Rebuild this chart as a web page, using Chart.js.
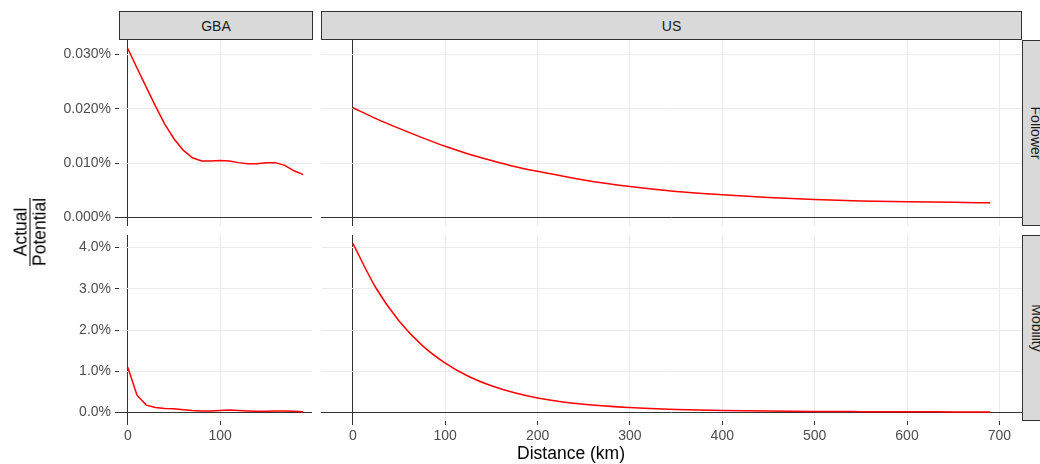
<!DOCTYPE html>
<html>
<head>
<meta charset="utf-8">
<script src="https://cdn.jsdelivr.net/npm/chart.js@4/dist/chart.umd.min.js"></script>
<style>
body { margin: 0; width: 1040px; height: 464px; overflow: hidden; background: #fff; position: relative; font-family: "Liberation Sans", Arial, sans-serif; }
canvas { position: absolute; }
.strip { position: absolute; box-sizing: border-box; background: #d9d9d9; border: 1px solid #333; color: #1a1a1a; font-size: 14px; display: flex; align-items: center; justify-content: center; }
.strip.r span { transform: rotate(90deg); white-space: nowrap; }
.lbl { position: absolute; transform: translate(-50%, -50%); white-space: nowrap; color: #000; }
</style>
</head>
<body>
<div class="strip" style="left:119px;top:11px;width:194px;height:29px">GBA</div>
<div class="strip" style="left:321px;top:11px;width:701px;height:29px">US</div>
<div class="strip r" style="left:1022px;top:40px;width:29px;height:186px"><span>Follower</span></div>
<div class="strip r" style="left:1022px;top:235px;width:29px;height:186px"><span>Mobility</span></div>

<canvas id="gba_follower" width="312" height="186" style="left:0;top:40px"></canvas>
<canvas id="us_follower" width="701" height="186" style="left:321px;top:40px"></canvas>
<canvas id="gba_mobility" width="312" height="216" style="left:0;top:235px"></canvas>
<canvas id="us_mobility" width="701" height="216" style="left:321px;top:235px"></canvas>

<div class="lbl" style="left:30px;top:232px;transform:translate(-50%,-50%) rotate(-90deg);text-align:center;font-size:17.5px;line-height:18px">
  <div>Actual</div>
  <div style="border-top:1px solid #000">Potential</div>
</div>
<div class="lbl" style="left:571px;top:453px;font-size:17.5px;line-height:18px">Distance (km)</div>

<script>
const gbaKm = [0, 10, 20, 30, 40, 50, 60, 70, 80, 90, 100, 110, 120, 130, 140, 150, 160, 170, 180, 190]
const gbaFollower = [0.0311, 0.0275, 0.0240, 0.0205, 0.0172, 0.0145, 0.0124, 0.0110, 0.0104, 0.0104, 0.0105, 0.0104, 0.0101, 0.0099, 0.0099, 0.0101, 0.0101, 0.0096, 0.0086, 0.0079]
const gbaMobility = [1.10, 0.42, 0.18, 0.12, 0.10, 0.09, 0.07, 0.05, 0.04, 0.04, 0.05, 0.06, 0.05, 0.04, 0.03, 0.03, 0.04, 0.04, 0.03, 0.02]

const usKm = [0, 25, 50, 75, 100, 125, 150, 175, 200, 250, 300, 350, 400, 450, 500, 550, 600, 650, 690]
const usFollower = [0.0202, 0.0182, 0.0164, 0.0147, 0.0131, 0.0117, 0.0105, 0.0094, 0.0085, 0.0069, 0.0057, 0.0048, 0.0042, 0.0037, 0.0033, 0.00305, 0.0029, 0.0028, 0.0027]
const usMobility = [4.10, 3.02, 2.22, 1.63, 1.20, 0.88, 0.65, 0.48, 0.355, 0.20, 0.12, 0.075, 0.05, 0.035, 0.027, 0.022, 0.018, 0.016, 0.015]

const xTicks = [0, 100, 200, 300, 400, 500, 600, 700]

// ggplot style range: data range incl. 0, expanded by 5%
function expand(values) {
    const lo = Math.min(0, ...values)
    const hi = Math.max(0, ...values)
    const pad = (hi - lo) * 0.05
    return [lo - pad, hi + pad]
}

const gbaX = expand(gbaKm)
const usX = expand(usKm)
const followerY = expand(gbaFollower.concat(usFollower))
const mobilityY = expand(gbaMobility.concat(usMobility))

const tickFont = { family: "Liberation Sans", size: 14 }

function gridColor(c) {
    return Math.abs(c.tick.value) < 1e-9 ? "#333333" : "#ebebeb"
}

function criar_painel(id, xs, ys, xr, yr, mostrarY, mostrarX, step, casas, suave) {
    const pontos = xs.map((x, i) => ({ x: x, y: ys[i] }))
    new Chart(document.getElementById(id), {
        type: "line",
        data: {
            datasets: [{
                data: pontos,
                borderColor: "#ff0000",
                borderWidth: 1.5,
                pointRadius: 0,
                fill: false,
                cubicInterpolationMode: suave ? "monotone" : "default",
                tension: 0
            }]
        },
        options: {
            responsive: false,
            animation: false,
            devicePixelRatio: 1,
            layout: { padding: 0 },
            plugins: { legend: { display: false }, tooltip: { enabled: false } },
            scales: {
                x: {
                    type: "linear",
                    min: xr[0],
                    max: xr[1],
                    afterBuildTicks: s => { s.ticks = xTicks.filter(v => v >= xr[0] && v <= xr[1]).map(v => ({ value: v })) },
                    ticks: { display: mostrarX, font: tickFont, color: "#4d4d4d", padding: 3, maxRotation: 0, autoSkip: false },
                    grid: { color: gridColor, lineWidth: 1, drawTicks: mostrarX, tickLength: 4, tickColor: "#333333" },
                    border: { display: false },
                    afterFit: s => { s.height = mostrarX ? 30 : 0; s.paddingLeft = 0; s.paddingRight = 0 }
                },
                y: {
                    type: "linear",
                    min: yr[0],
                    max: yr[1],
                    ticks: {
                        display: mostrarY, font: tickFont, color: "#4d4d4d", padding: 4,
                        stepSize: step, includeBounds: false,
                        callback: v => v.toFixed(casas) + "%"
                    },
                    grid: { color: gridColor, lineWidth: 1, drawTicks: mostrarY, tickLength: 4, tickColor: "#333333" },
                    border: { display: false },
                    afterFit: s => { s.width = mostrarY ? 119 : 0; s.paddingTop = 0; s.paddingBottom = 0 }
                }
            }
        }
    })
}

criar_painel("gba_follower", gbaKm, gbaFollower, gbaX, followerY, true, false, 0.01, 3, false)
criar_painel("us_follower", usKm, usFollower, usX, followerY, false, false, 0.01, 3, true)
criar_painel("gba_mobility", gbaKm, gbaMobility, gbaX, mobilityY, true, true, 1, 1, false)
criar_painel("us_mobility", usKm, usMobility, usX, mobilityY, false, true, 1, 1, true)
</script>
</body>
</html>
